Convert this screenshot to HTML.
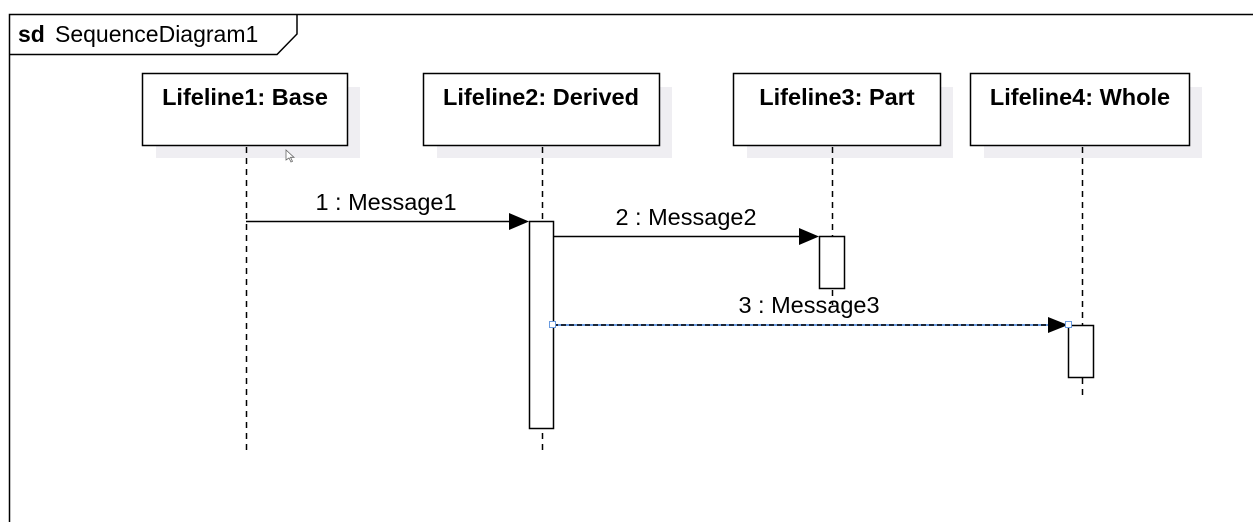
<!DOCTYPE html>
<html><head><style>
html,body{margin:0;padding:0;background:#fff;}
svg text{font-family:"Liberation Sans",sans-serif;}
</style></head><body>
<svg width="1253" height="522" xmlns="http://www.w3.org/2000/svg">
<rect width="1253" height="522" fill="#fff"/>
<path d="M9.5 522 V14.5 H1253" fill="none" stroke="#000" stroke-width="1.5"/>
<path d="M9.5 54.5 H277 L297 34 V14.5" fill="none" stroke="#000" stroke-width="1.5"/>
<text x="18" y="42" font-size="23" font-weight="bold">sd</text>
<text x="55" y="42" font-size="23">SequenceDiagram1</text>
<g fill="#efeef2">
<rect x="156" y="87" width="204" height="71"/>
<rect x="437" y="87" width="235" height="71"/>
<rect x="747" y="87" width="206" height="71"/>
<rect x="984" y="87" width="218" height="71"/>
</g>
<g fill="#fff" stroke="#000" stroke-width="1.5">
<rect x="142.5" y="73.5" width="205" height="72"/>
<rect x="423.5" y="73.5" width="236" height="72"/>
<rect x="733.5" y="73.5" width="207" height="72"/>
<rect x="970.5" y="73.5" width="219" height="72"/>
</g>
<g font-size="23.5" font-weight="bold" text-anchor="middle">
<text x="245" y="105">Lifeline1: Base</text>
<text x="541" y="105">Lifeline2: Derived</text>
<text x="837" y="105">Lifeline3: Part</text>
<text x="1080" y="105">Lifeline4: Whole</text>
</g>
<g stroke="#000" stroke-width="1.5" stroke-dasharray="6,5">
<line x1="246.5" y1="147" x2="246.5" y2="453"/>
<line x1="542.5" y1="147" x2="542.5" y2="453"/>
<line x1="832.5" y1="147" x2="832.5" y2="305"/>
<line x1="1082.5" y1="147" x2="1082.5" y2="398"/>
</g>
<g fill="#fff" stroke="#000" stroke-width="1.5">
<rect x="529.5" y="221.5" width="24" height="207"/>
<rect x="819.5" y="236.5" width="25" height="52"/>
<rect x="1068.5" y="325.5" width="25" height="52"/>
</g>
<line x1="246" y1="221.5" x2="512" y2="221.5" stroke="#000" stroke-width="1.5"/>
<polygon points="509,213 529,221.5 509,230" fill="#000"/>
<line x1="553" y1="236.5" x2="802" y2="236.5" stroke="#000" stroke-width="1.5"/>
<polygon points="799,228 819,236.5 799,245" fill="#000"/>
<line x1="553" y1="325" x2="1060" y2="325" stroke="#6a9be0" stroke-width="2"/>
<line x1="553" y1="325" x2="1060" y2="325" stroke="#000" stroke-width="1.5" stroke-dasharray="5,3"/>
<polygon points="1048,317 1068,325 1048,333" fill="#000"/>
<rect x="549.5" y="321.5" width="6" height="6" fill="#fff" stroke="#6a9be0"/>
<rect x="1065.5" y="321.5" width="6" height="6" fill="#fff" stroke="#6a9be0"/>
<g font-size="23.5" text-anchor="middle">
<text x="386" y="210">1 : Message1</text>
<text x="686" y="225">2 : Message2</text>
<text x="809" y="313">3 : Message3</text>
</g>
<path d="M286 150 v10 l3 -2 l2 4 l1.5 -0.7 l-2 -4 l3.5 0 z" fill="#fff" stroke="#666" stroke-width="0.8"/>
</svg>
</body></html>
